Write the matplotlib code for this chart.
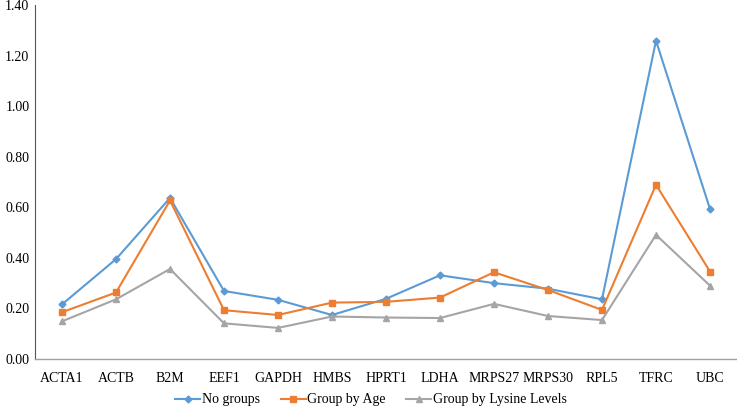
import matplotlib
matplotlib.use('Agg')
import matplotlib.pyplot as plt

plt.rcParams['font.family'] = ['Liberation Serif', 'DejaVu Serif']

# Reference genes and stability values per grouping
genes = ['ACTA1', 'ACTB', 'B2M', 'EEF1', 'GAPDH', 'HMBS', 'HPRT1',
         'LDHA', 'MRPS27', 'MRPS30', 'RPL5', 'TFRC', 'UBC']
no_groups = [0.216, 0.395, 0.637, 0.269, 0.234, 0.174, 0.238,
             0.331, 0.300, 0.278, 0.236, 1.259, 0.593]
by_age = [0.185, 0.263, 0.627, 0.193, 0.174, 0.223, 0.226,
          0.243, 0.343, 0.273, 0.194, 0.689, 0.346]
by_lysine = [0.149, 0.236, 0.356, 0.141, 0.123, 0.168, 0.164,
             0.162, 0.218, 0.170, 0.154, 0.491, 0.290]
yticks = [0.0, 0.2, 0.4, 0.6, 0.8, 1.0, 1.2, 1.4]

fig = plt.figure(figsize=(7.37, 4.09), dpi=100)
ax = fig.add_axes([35 / 737, 50 / 409, 702 / 737, 354 / 409])

x = range(len(genes))
ax.plot(x, no_groups, color='#5B9BD5', marker='D', markersize=3.5,
        linewidth=1.5, label='No groups')
ax.plot(x, by_age, color='#ED7D31', marker='s', markersize=5,
        linewidth=1.5, label='Group by Age')
ax.plot(x, by_lysine, color='#A5A5A5', marker='^', markersize=5,
        linewidth=1.5, label='Group by Lysine Levels')

ax.set_xlim(-0.5, len(genes) - 0.5)
ax.set_ylim(0, 1.4)
ax.set_xticks(list(x))
ax.set_xticklabels(genes, fontsize=10)
ax.set_yticks(yticks)
ax.set_yticklabels(['%.2f' % v for v in yticks], fontsize=10)
ax.tick_params(axis='both', length=0)
ax.tick_params(axis='x', pad=9)
ax.tick_params(axis='y', pad=4)

for s in ['top', 'right']:
    ax.spines[s].set_visible(False)
ax.spines['left'].set_color('#555555')
ax.spines['left'].set_linewidth(0.8)
ax.spines['bottom'].set_color('#A0A0A0')
ax.spines['bottom'].set_linewidth(1.0)

fig.legend(loc='center', bbox_to_anchor=(371 / 737, 9 / 409), ncol=3,
           frameon=False, fontsize=10, handlelength=1.8,
           columnspacing=1.5, handletextpad=0.1, borderpad=0)

fig.savefig('out.png', dpi=100)
